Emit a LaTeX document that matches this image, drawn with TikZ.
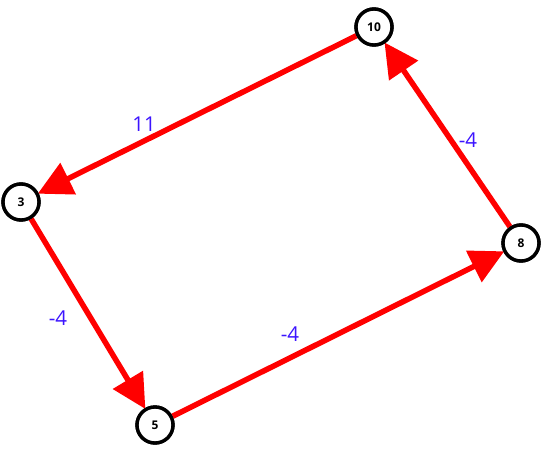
\documentclass[tikz,border=0pt]{standalone}
\usepackage{fontspec}
\setmainfont{Open Sans}
\usetikzlibrary{arrows.meta}
\definecolor{lblue}{RGB}{60,20,255}
\begin{document}
\begin{tikzpicture}[x=1pt,y=-1pt,
  vtx/.style={circle,draw=black,line width=3.4pt,fill=white,minimum size=36pt,inner sep=0pt,font=\fontsize{12}{14}\selectfont\bfseries},
  edge/.style={draw=red,line width=5.5pt,-{Triangle[length=34pt,width=34pt]},shorten >=-1pt},
  lbl/.style={text=lblue,font=\fontsize{20.5}{24}\selectfont}]
\useasboundingbox (0,0) rectangle (543,450);
\node[vtx] (n10) at (374,27) {10};
\node[vtx] (n3) at (21,202) {3};
\node[vtx] (n5) at (155,425) {5};
\node[vtx] (n8) at (521,243) {8};
\draw[edge] (n10) -- (n3);
\draw[edge] (n3) -- (n5);
\draw[edge] (n5) -- (n8);
\draw[edge] (n8) -- (n10);
\node[vtx] at (374,27) {10};
\node[vtx] at (21,202) {3};
\node[vtx] at (155,425) {5};
\node[vtx] at (521,243) {8};
\node[lbl] (l1) at (144,124) {11};
\node[lbl] (l2) at (468,140) {-4};
\node[lbl] (l3) at (58,318) {-4};
\node[lbl] (l4) at (290,334) {-4};
\end{tikzpicture}
\end{document}
